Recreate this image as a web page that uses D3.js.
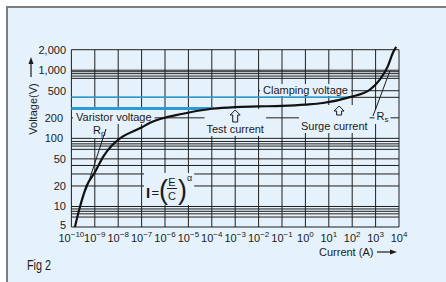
<!DOCTYPE html>
<html>
<head>
<meta charset="utf-8">
<script src="https://cdn.jsdelivr.net/npm/d3@7"></script>
<style>
  body { margin: 0; background: #fff; }
  svg { display: block; }
  text { font-family: "Liberation Sans", Arial, sans-serif; fill: #1a1a1a; }
</style>
</head>
<body>
<div id="chart"></div>
<script>
// Varistor V-I characteristic, log-log grid
var currentExp = d3.range(-10, 5);
var voltageTicks = [5, 10, 20, 50, 100, 200, 500, 1000, 2000];
var voltageTickLabels = ["5", "10", "20", "50", "100", "200", "500", "1,000", "2,000"];
var voltageGrid = [2000, 1000, 950, 890, 820, 760, 400, 200,
                   100, 90, 83, 77, 69, 50, 40, 30, 20,
                   10, 9.2, 8.5, 7.8, 7, 5];

// curve: log10(current), voltage
var curveExp  = [-9.85, -9.63, -9.35, -8.99, -8.64, -8.28, -7.92, -7.03, -6.64, -5.23, -3.99, -3.01, -2, -1, 0, 0.75, 1.9, 2.76, 3.18, 3.52, 3.74, 3.88];
var curveVolt = [5, 10, 20, 32, 54, 78, 100, 143, 169, 230, 272, 288, 294, 300, 313, 330, 403, 518, 725, 1138, 1808, 2200];

var varistorLevel = 275, varistorEndExp = -3.9;
var clampLevel = 400, clampEndExp = 1.9;
var testExp = -3, surgeExp = 1.44;

var W = 446, H = 282;
var bg = "#e6f2fb";

var svg = d3.select("#chart").append("svg")
    .attr("width", W)
    .attr("height", H);

svg.append("rect").attr("x", 7).attr("y", 7).attr("width", W - 7).attr("height", H - 7).style("fill", bg);
svg.append("path").attr("d", "M7," + H + "V7H" + W).style("fill", "none").style("stroke", "#7d7d7d").style("stroke-width", 2);

var x = d3.scaleLog().domain([1e-10, 1e4]).range([71.4, 399]);
var y = d3.scaleLog().domain([5, 2000]).range([227, 49.7]);
var ex = function(e) { return x(Math.pow(10, e)); };

var grid = svg.append("g");

grid.selectAll(".hgrid")
    .data(voltageGrid)
  .enter().append("line")
    .attr("class", "hgrid")
    .attr("x1", x.range()[0]).attr("x2", x.range()[1])
    .attr("y1", function(d) { return y(d); }).attr("y2", function(d) { return y(d); })
    .style("stroke", "#1e1e1e").style("stroke-width", 1);

grid.selectAll(".vgrid")
    .data(currentExp)
  .enter().append("line")
    .attr("class", "vgrid")
    .attr("x1", function(d) { return ex(d); }).attr("x2", function(d) { return ex(d); })
    .attr("y1", y.range()[0]).attr("y2", y.range()[1])
    .style("stroke", "#1e1e1e").style("stroke-width", 1);

// partial line behind the clamping label
grid.append("line")
    .attr("x1", ex(-2)).attr("x2", x.range()[1])
    .attr("y1", y(500)).attr("y2", y(500))
    .style("stroke", "#1e1e1e");

// blue reference levels
svg.append("line")
    .attr("x1", x.range()[0]).attr("x2", ex(clampEndExp))
    .attr("y1", y(clampLevel)).attr("y2", y(clampLevel))
    .style("stroke", "#2b9bd6").style("stroke-width", 1.5);
svg.append("line")
    .attr("x1", x.range()[0]).attr("x2", ex(varistorEndExp))
    .attr("y1", y(varistorLevel)).attr("y2", y(varistorLevel))
    .style("stroke", "#2b9bd6").style("stroke-width", 3);

// y tick labels
svg.selectAll(".ylab")
    .data(voltageTicks)
  .enter().append("text")
    .attr("class", "ylab")
    .attr("x", function(d) { return (d === 100 || d === 200) ? 63 : 66; })
    .attr("y", function(d) { return y(d) - (d === 5 ? 2 : 0); })
    .attr("dy", "0.35em")
    .style("text-anchor", "end")
    .style("font-size", "11px")
    .text(function(d, i) { return voltageTickLabels[i]; });

// x tick labels 10^n
var xl = svg.selectAll(".xlab")
    .data(currentExp)
  .enter().append("text")
    .attr("class", "xlab")
    .attr("x", function(d) { return ex(d); })
    .attr("y", 242)
    .style("text-anchor", "middle")
    .style("font-size", "11px");
xl.append("tspan").text("10");
xl.append("tspan")
    .attr("dy", -5)
    .style("font-size", "8px")
    .text(function(d) { return d < 0 ? "\u2212" + (-d) : String(d); });

// label with a background patch hiding the grid
function boxed(g, pad) {
    var b = g.node().getBBox();
    g.insert("rect", ":first-child")
        .attr("x", b.x - pad[0]).attr("y", b.y - pad[1])
        .attr("width", b.width + 2 * pad[0]).attr("height", b.height + 2 * pad[1])
        .style("fill", bg);
    return g;
}

var g1 = svg.append("g");
g1.append("text").attr("x", 76).attr("y", 121).style("font-size", "11px").text("Varistor voltage");
boxed(g1, [3, 1]);

var g2 = svg.append("g");
g2.append("text").attr("x", 263).attr("y", 94).style("font-size", "11px").text("Clamping voltage");
boxed(g2, [3, 0]);

// hollow up arrow
function hollowArrow(g, cx, tip, len) {
    var p = "M" + cx + "," + tip + "l5,5h-2.5v" + (len - 5) + "h-5v" + (-(len - 5)) + "h-2.5z";
    g.append("path").attr("d", p).style("fill", bg).style("stroke", "#1a1a1a").style("stroke-width", 1);
}

var g3 = svg.append("g");
hollowArrow(g3, ex(testExp), 110, 12);
g3.append("text").attr("x", ex(testExp)).attr("y", 133).style("text-anchor", "middle").style("font-size", "11px").text("Test current");
boxed(g3, [2, 1]);

var g4 = svg.append("g");
hollowArrow(g4, ex(surgeExp), 106, 9);
g4.append("text").attr("x", 301).attr("y", 130).style("font-size", "11px").text("Surge current");
boxed(g4, [2, 1]);

var g5 = svg.append("g");
var rs = g5.append("text").attr("x", 376.5).attr("y", 120).style("font-size", "11px");
rs.append("tspan").text("R");
rs.append("tspan").attr("dy", 2).style("font-size", "8px").text("s");
boxed(g5, [2, 0]);
svg.append("line").attr("x1", 373).attr("y1", 116).attr("x2", 390).attr("y2", 70.7)
    .style("stroke", "#1a1a1a").style("stroke-width", 1);

var g6 = svg.append("g");
var rp = g6.append("text").attr("x", 93).attr("y", 134).style("font-size", "11px");
rp.append("tspan").text("R");
rp.append("tspan").attr("dy", 2).style("font-size", "8px").text("p");
boxed(g6, [1, 0]);
svg.append("line").attr("x1", 106).attr("y1", 129).attr("x2", 86).attr("y2", 190)
    .style("stroke", "#1a1a1a").style("stroke-width", 1);

// formula I=(E/C)^alpha
var g7 = svg.append("g");
g7.append("text").attr("x", 146).attr("y", 198).style("font-size", "15px").style("font-weight", "bold").text("I");
g7.append("text").attr("x", 151.5).attr("y", 197).style("font-size", "13px").text("=");
g7.append("text").attr("x", 159).attr("y", 199).style("font-size", "27px").style("font-weight", "200").text("(");
g7.append("text").attr("x", 172).attr("y", 186).style("text-anchor", "middle").style("font-size", "11px").text("E");
g7.append("line").attr("x1", 167).attr("x2", 177).attr("y1", 188.5).attr("y2", 188.5).style("stroke", "#1a1a1a");
g7.append("text").attr("x", 172).attr("y", 200).style("text-anchor", "middle").style("font-size", "11px").text("C");
g7.append("text").attr("x", 178).attr("y", 199).style("font-size", "27px").style("font-weight", "200").text(")");
g7.append("text").attr("x", 187).attr("y", 181).style("font-size", "9px").text("\u03b1");
boxed(g7, [2, 0]);

// V-I curve
var line = d3.line()
    .x(function(d) { return ex(d[0]); })
    .y(function(d) { return y(d[1]); })
    .curve(d3.curveMonotoneX);

svg.append("path")
    .datum(curveExp.map(function(e, i) { return [e, curveVolt[i]]; }))
    .attr("d", line)
    .style("fill", "none")
    .style("stroke", "#111")
    .style("stroke-width", 2.2);

// axis titles
svg.append("text")
    .attr("transform", "translate(37,109) rotate(-90)")
    .style("text-anchor", "middle")
    .style("font-size", "11px")
    .text("Voltage(V)");
svg.append("line").attr("x1", 31).attr("x2", 31).attr("y1", 77).attr("y2", 62).style("stroke", "#1a1a1a").style("stroke-width", 1.2);
svg.append("path").attr("d", "M31,57l-2.5,7h5z").style("fill", "#1a1a1a");

svg.append("text").attr("x", 319).attr("y", 256).style("font-size", "11px").text("Current (A)");
svg.append("line").attr("x1", 377).attr("x2", 391).attr("y1", 252).attr("y2", 252).style("stroke", "#1a1a1a").style("stroke-width", 1.2);
svg.append("path").attr("d", "M397,252l-7,-2.5v5z").style("fill", "#1a1a1a");

svg.append("text").attr("x", 27).attr("y", 270)
    .attr("textLength", 24).attr("lengthAdjust", "spacingAndGlyphs")
    .style("font-size", "14px").text("Fig 2");
</script>
</body>
</html>
